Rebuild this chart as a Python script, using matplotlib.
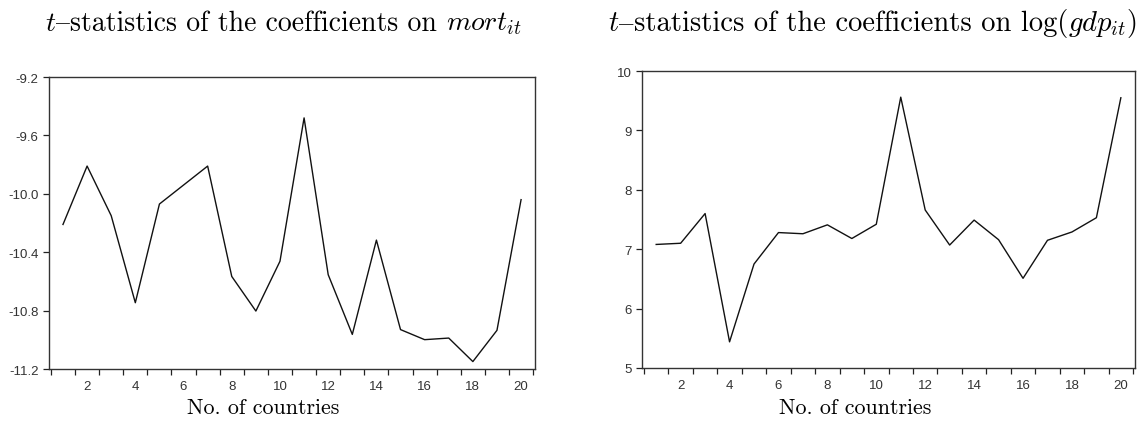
import matplotlib
matplotlib.use("Agg")
import matplotlib.pyplot as plt
from matplotlib.ticker import FixedLocator, FormatStrFormatter
from matplotlib.offsetbox import TextArea, HPacker, AnnotationBbox

plt.rcParams['mathtext.fontset'] = 'cm'
plt.rcParams['axes.unicode_minus'] = False

countries = list(range(1, 21))

mort_t = [-10.21, -9.81, -10.15, -10.746, -10.07, -9.94, -9.81, -10.566, -10.803, -10.462,
          -9.48, -10.554, -10.963, -10.317, -10.930, -10.999, -10.988, -11.149, -10.935, -10.04]

gdp_t = [7.08, 7.10, 7.60, 5.44, 6.75, 7.28, 7.26, 7.41, 7.18, 7.42,
         9.56, 7.66, 7.07, 7.49, 7.16, 6.51, 7.15, 7.29, 7.53, 9.55]

mort_ticks = [-11.2, -10.8, -10.4, -10.0, -9.6, -9.2]
gdp_ticks = [5, 6, 7, 8, 9, 10]
x_labels = list(range(2, 21, 2))

# titles split so the en dash can come from a font that has it
title_left = [r"$t$", "–", "statistics of the coefficients on ", r"$mort_{it}$"]
title_right = [r"$t$", "–", "statistics of the coefficients on log(", r"$gdp_{it}$", ")"]
x_title = "No. of countries"

tick_font = 'Liberation Sans'

fig = plt.figure(figsize=(11.45, 4.31), dpi=100)
ax1 = fig.add_axes([0.0428, 0.1415, 0.4245, 0.6775])
ax2 = fig.add_axes([0.5607, 0.1439, 0.4306, 0.689])


def style_axis(ax, ys, yticks, ylim, fmt):
    ax.plot(countries, ys, color='#111111', lw=1.0)
    ax.set_xlim(0.42, 20.58)
    ax.set_ylim(*ylim)
    ax.xaxis.set_major_locator(FixedLocator(x_labels))
    ax.xaxis.set_minor_locator(FixedLocator([i + 0.5 for i in range(0, 21)]))
    ax.yaxis.set_major_locator(FixedLocator(yticks))
    ax.yaxis.set_major_formatter(FormatStrFormatter(fmt))
    ax.tick_params(axis='x', which='major', length=0, pad=8,
                   labelsize=9.5, labelcolor='#333333')
    ax.tick_params(axis='x', which='minor', length=4, width=0.9,
                   direction='out', color='#222222')
    ax.tick_params(axis='y', which='major', length=4, width=0.9,
                   direction='out', labelsize=9.5, labelcolor='#333333',
                   color='#222222')
    for lab in ax.get_xticklabels() + ax.get_yticklabels():
        lab.set_family(tick_font)
    for sp in ax.spines.values():
        sp.set_color('#333333')
        sp.set_linewidth(1.0)


def serif_line(x, y, parts, size):
    kids = []
    for s in parts:
        fam = 'STIXGeneral' if s == "–" else 'cmr10'
        kids.append(TextArea(s, textprops=dict(family=fam, size=size, color='black')))
    box = HPacker(children=kids, sep=0, pad=0, align='baseline')
    ab = AnnotationBbox(box, (x, y), xycoords='figure fraction',
                        box_alignment=(0.5, 0.5), frameon=False, pad=0)
    fig.add_artist(ab)


style_axis(ax1, mort_t, mort_ticks, (-11.2, -9.2), '%.1f')
style_axis(ax2, gdp_t, gdp_ticks, (5, 10), '%d')

serif_line(0.2475, 0.945, title_left, 20)
serif_line(0.762, 0.945, title_right, 20.6)

fig.text(0.23, 0.053, x_title, ha='center', va='center',
         fontsize=15.8, family='cmr10')
fig.text(0.747, 0.053, x_title, ha='center', va='center',
         fontsize=15.8, family='cmr10')

fig.savefig('out.png', dpi=100)
